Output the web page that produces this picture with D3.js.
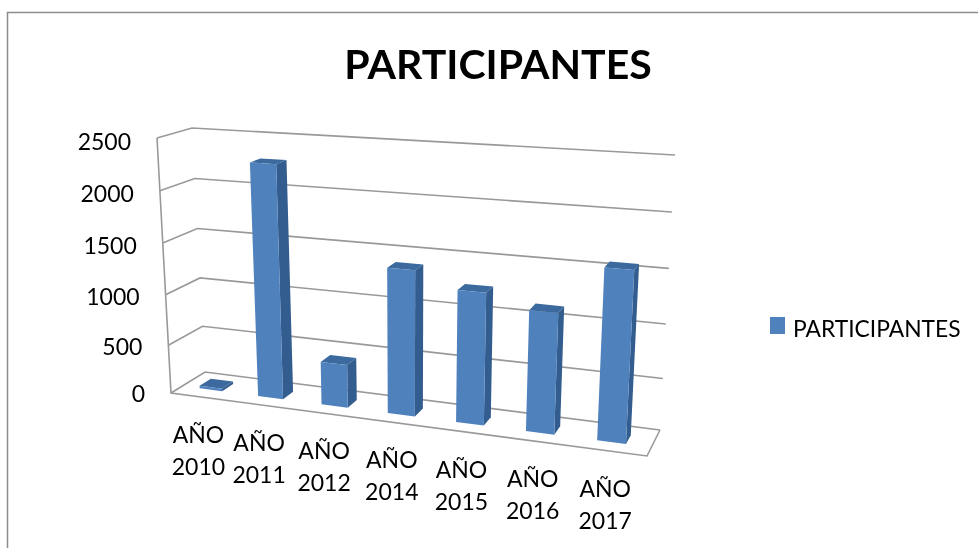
<!DOCTYPE html>
<html>
<head>
<meta charset="utf-8">
<script src="https://cdn.jsdelivr.net/npm/d3@7"></script>
<style>
  html, body { margin: 0; padding: 0; background: #fff; }
  svg { display: block; }
  text { font-family: Lato, "Noto Sans", sans-serif; fill: #000; filter: blur(0.3px); }
</style>
</head>
<body>
<div id="d3-viz"></div>
<script>
// chart values
const categories = ["AÑO 2010", "AÑO 2011", "AÑO 2012", "AÑO 2014", "AÑO 2015", "AÑO 2016", "AÑO 2017"];
const participantes = [30, 2285, 435, 1400, 1255, 1135, 1575];
const yTicks = [0, 500, 1000, 1500, 2000, 2500];
const seriesName = "PARTICIPANTES";
const chartTitle = "PARTICIPANTES";

const WIDTH = 978;
const HEIGHT = 548;

// corners of the 3D box on screen: [x, y], front/back, bottom/top, left/right
const BOX = {
    fbl: [171, 393], fbr: [647, 456], bbl: [205, 372], bbr: [660, 430],
    ftl: [157, 138], ftr: [662, 169], btl: [192, 128], btr: [675, 155]
};

const svg = d3.select("#d3-viz")
    .append("svg")
    .attr("width", WIDTH)
    .attr("height", HEIGHT);

// band position along the floor
const xBand = d3.scaleBand()
    .domain(categories)
    .range([0.008, 0.993])
    .paddingInner(0.6)
    .paddingOuter(0.3);

// the perspective squeezes the left end and the top a little
const xWarp = d3.scalePow().exponent(1.1).domain([0, 1]).range([0, 1]);
const yScale = d3.scalePow().exponent(1.04).domain([0, 2500]).range([0, 1]);

// t along categories, d into the depth (0 front, 1 back), v the value
function project(t, d, v) {
    const u = xWarp(t);
    const h = yScale(v);
    const mix = i => {
        const bottom = (1 - d) * ((1 - u) * BOX.fbl[i] + u * BOX.fbr[i]) + d * ((1 - u) * BOX.bbl[i] + u * BOX.bbr[i]);
        const top = (1 - d) * ((1 - u) * BOX.ftl[i] + u * BOX.ftr[i]) + d * ((1 - u) * BOX.btl[i] + u * BOX.btr[i]);
        return (1 - h) * bottom + h * top;
    };
    return [mix(0), mix(1)];
}

const line = d3.line();
const closed = pts => line(pts) + "Z";

// chart frame, only top and left are in the picture
svg.append("path")
    .attr("d", line([[7.5, HEIGHT], [7.5, 12.5], [WIDTH, 12.5]]))
    .attr("fill", "none")
    .attr("stroke", "#8c8c8c")
    .attr("stroke-width", 1.5);

const plot = svg.append("g").style("filter", "blur(0.6px)");

// gridlines on the side wall and back wall
plot.selectAll(".grid")
    .data(yTicks)
    .enter()
    .append("path")
    .attr("class", "grid")
    .attr("d", v => line([project(0, 0, v), project(0, 1, v), project(1, 1, v)]))
    .attr("fill", "none")
    .attr("stroke", "#999")
    .attr("stroke-width", 1.6);

// wall edge and floor edges
plot.append("path")
    .attr("d", line([project(0, 0, 2500), project(0, 0, 0), project(1, 0, 0), project(1, 1, 0)]))
    .attr("fill", "none")
    .attr("stroke", "#999")
    .attr("stroke-width", 1.6);

const bars = plot.selectAll(".bar")
    .data(categories.map((c, i) => ({ name: c, value: participantes[i] })))
    .enter()
    .append("g")
    .attr("class", "bar");

const DEPTH0 = 0.33;
const DEPTH1 = 0.67;
const x0 = d => xBand(d.name);
const x1 = d => xBand(d.name) + xBand.bandwidth();

// top
bars.append("path")
    .attr("fill", "#3c6a9e")
    .attr("d", d => closed([
        project(x0(d), DEPTH0, d.value), project(x1(d), DEPTH0, d.value),
        project(x1(d), DEPTH1, d.value), project(x0(d), DEPTH1, d.value)
    ]));

// right side
bars.append("path")
    .attr("fill", "#335d8e")
    .attr("d", d => closed([
        project(x1(d), DEPTH0, d.value), project(x1(d), DEPTH1, d.value),
        project(x1(d), DEPTH1, 0), project(x1(d), DEPTH0, 0)
    ]));

// front
bars.append("path")
    .attr("fill", "#4f81bd")
    .attr("d", d => closed([
        project(x0(d), DEPTH0, d.value), project(x1(d), DEPTH0, d.value),
        project(x1(d), DEPTH0, 0), project(x0(d), DEPTH0, 0)
    ]));

// value axis labels, they sit a bit tighter than the wall edge
svg.selectAll(".y-label")
    .data(yTicks)
    .enter()
    .append("text")
    .attr("class", "y-label")
    .attr("x", v => project(0, 0, v)[0] - 26)
    .attr("y", v => project(0, 0, v)[1] + 9 + 3 * v / 2500)
    .attr("text-anchor", "end")
    .attr("font-size", 23)
    .text(v => v);

// category labels, two lines each
const labelPos = c => {
    const p = project(xBand(c) + xBand.bandwidth() / 2, 0, 0);
    return [p[0] - 1.5, p[1]];
};

const catLabels = svg.selectAll(".x-label")
    .data(categories)
    .enter()
    .append("text")
    .attr("class", "x-label")
    .attr("text-anchor", "middle")
    .attr("font-size", 23);

catLabels.append("tspan")
    .attr("x", c => labelPos(c)[0])
    .attr("y", c => labelPos(c)[1] + 46)
    .text(c => c.split(" ")[0]);

catLabels.append("tspan")
    .attr("x", c => labelPos(c)[0])
    .attr("y", c => labelPos(c)[1] + 78)
    .text(c => c.split(" ")[1]);

// title
svg.append("text")
    .attr("x", 498)
    .attr("y", 79)
    .attr("text-anchor", "middle")
    .attr("font-size", 41)
    .attr("font-weight", "bold")
    .text(chartTitle);

// legend
svg.append("rect")
    .attr("x", 770)
    .attr("y", 317)
    .attr("width", 15)
    .attr("height", 17)
    .attr("fill", "#4f81bd");

svg.append("text")
    .attr("x", 793)
    .attr("y", 337)
    .attr("font-size", 22.8)
    .text(seriesName);
</script>
</body>
</html>
